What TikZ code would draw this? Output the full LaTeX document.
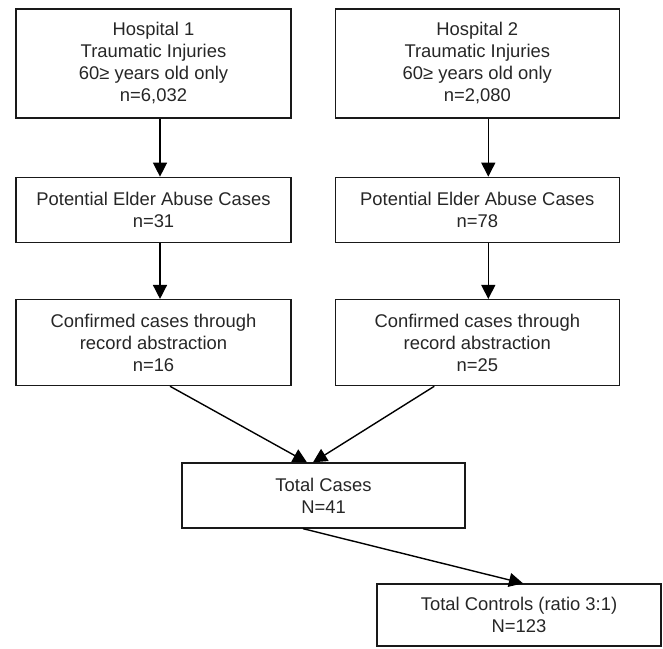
\documentclass[tikz,border=0pt]{standalone}
\usepackage{fontspec}
\setmainfont{Liberation Sans}
\usetikzlibrary{arrows.meta, positioning}

\begin{document}
\begin{tikzpicture}[x=1pt, y=-1pt, node distance=58pt,
    box/.style={rectangle, draw=black!90, line width=1.3pt, inner sep=0pt,
                minimum width=275pt, align=center, text=black!85,
                font=\fontsize{18.4}{22}\selectfont},
    wide/.style={box, minimum width=284pt},
    arrow/.style={-{Triangle[length=14pt, width=14pt]}, line width=1.4pt}
]
\useasboundingbox (0,0) rectangle (663,648);

\node (hosp1) [box, minimum height=109pt] at (153.5,63.5)
      {Hospital 1\\Traumatic Injuries\\60≥ years old only\\n=6,032};
\node (hosp2) [wide, minimum height=109pt, right=43pt of hosp1]
      {Hospital 2\\Traumatic Injuries\\60≥ years old only\\n=2,080};
\node (pot1)  [box, minimum height=65pt, below=of hosp1]
      {Potential Elder Abuse Cases\\n=31};
\node (pot2)  [wide, minimum height=65pt, below=of hosp2]
      {Potential Elder Abuse Cases\\n=78};
\node (conf1) [box, minimum height=86pt, below=56pt of pot1]
      {Confirmed cases through\\record abstraction\\n=16};
\node (conf2) [wide, minimum height=86pt, below=56pt of pot2]
      {Confirmed cases through\\record abstraction\\n=25};
\node (total) [box, minimum width=283pt, minimum height=65pt] at (323.5,495.5)
      {Total Cases\\N=41};
\node (ctrl)  [wide, minimum height=62pt] at (519,615)
      {Total Controls (ratio 3:1)\\N=123};

\draw [arrow] ([xshift=6.5pt]hosp1.south) -- ([xshift=6.5pt]pot1.north);
\draw [arrow] ([xshift=11pt]hosp2.south)  -- ([xshift=11pt]pot2.north);
\draw [arrow] ([xshift=6.5pt]pot1.south)  -- ([xshift=6.5pt]conf1.north);
\draw [arrow] ([xshift=11pt]pot2.south)   -- ([xshift=11pt]conf2.north);
\draw [arrow] ([xshift=16.5pt]conf1.south) -- ([xshift=-16.5pt]total.north);
\draw [arrow] ([xshift=-43pt]conf2.south)  -- ([xshift=-10.5pt]total.north);
\draw [arrow] ([xshift=-20.5pt]total.south) -- ([xshift=4pt]ctrl.north);
\end{tikzpicture}
\end{document}
